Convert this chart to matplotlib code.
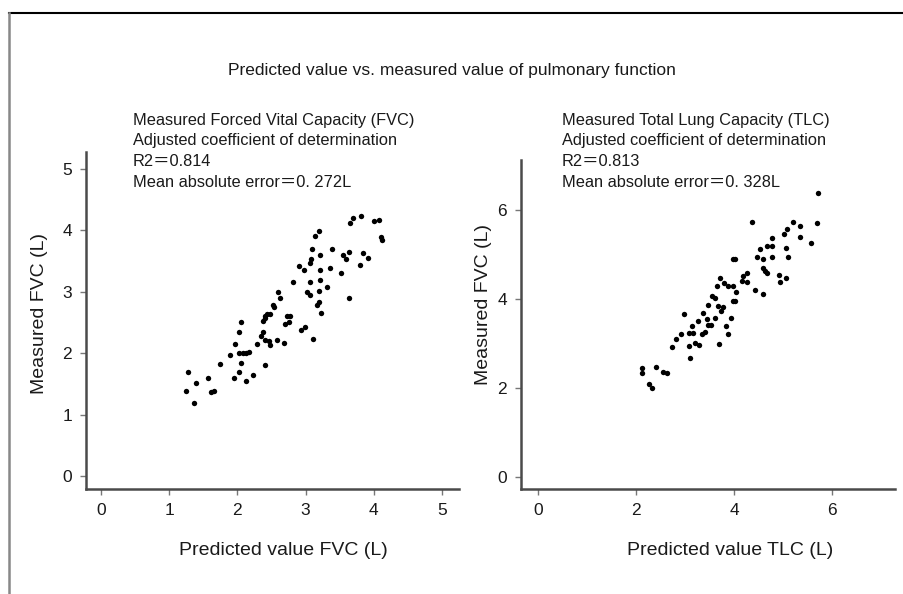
import matplotlib
matplotlib.use("Agg")
from matplotlib import pyplot as plt
from matplotlib.lines import Line2D

plt.rcParams['font.family'] = ['Liberation Sans', 'Noto Sans CJK JP', 'DejaVu Sans']

# Forced vital capacity (L): predicted vs measured
fvc_pred = [1.27, 1.39, 1.24, 1.36, 1.57, 1.62, 1.65, 1.75, 1.89, 1.95,
            2.02, 2.12, 2.23, 2.05, 2.03, 2.08, 2.13, 2.17, 1.96, 2.03,
            2.06, 2.29, 2.41, 2.34, 2.38, 2.41, 2.47, 2.48, 2.58, 2.68,
            2.38, 2.41, 2.43, 2.48, 2.41, 2.52, 2.54, 2.60, 2.63, 2.70,
            2.73, 2.77, 2.75, 2.82, 2.90, 2.98, 2.94, 2.99, 3.11, 3.02,
            3.06, 3.06, 3.21, 3.06, 3.08, 3.10, 3.14, 3.20, 3.21, 3.21,
            3.20, 3.31, 3.17, 3.20, 3.22, 3.36, 3.39, 3.52, 3.55, 3.59,
            3.64, 3.63, 3.65, 3.69, 3.81, 3.80, 3.84, 3.92, 4.01, 4.08,
            4.11, 4.12]
fvc_meas = [1.69, 1.52, 1.38, 1.19, 1.60, 1.36, 1.38, 1.82, 1.97, 1.60,
            1.70, 1.54, 1.64, 1.84, 2.00, 2.00, 2.00, 2.02, 2.15, 2.34,
            2.50, 2.15, 1.81, 2.28, 2.35, 2.21, 2.20, 2.13, 2.21, 2.16,
            2.52, 2.61, 2.64, 2.64, 2.57, 2.79, 2.75, 2.99, 2.90, 2.48,
            2.60, 2.61, 2.51, 3.16, 3.41, 3.35, 2.37, 2.43, 2.23, 3.00,
            2.94, 3.16, 3.19, 3.46, 3.53, 3.69, 3.90, 3.99, 3.59, 3.35,
            3.01, 3.07, 2.79, 2.83, 2.66, 3.38, 3.69, 3.30, 3.59, 3.53,
            3.64, 2.90, 4.11, 4.19, 4.23, 3.44, 3.62, 3.55, 4.14, 4.17,
            3.89, 3.84]

# Total lung capacity (L): predicted vs measured
tlc_pred = [5.72, 5.70, 5.57, 5.20, 5.35, 5.35, 5.09, 5.02, 5.06, 5.11,
            4.37, 4.77, 4.67, 4.77, 4.53, 4.48, 4.59, 4.78, 4.60, 4.63,
            4.68, 4.92, 5.06, 4.95, 3.99, 4.02, 4.26, 4.19, 4.16, 4.27,
            4.43, 4.59, 3.71, 3.80, 3.88, 3.99, 3.65, 4.05, 3.56, 3.61,
            3.99, 4.02, 3.48, 3.68, 3.78, 3.73, 2.97, 3.37, 3.61, 3.95,
            3.27, 3.44, 3.48, 3.53, 3.14, 3.83, 3.09, 3.17, 3.34, 3.41,
            2.92, 2.82, 3.87, 3.20, 3.29, 2.74, 3.08, 3.70, 3.10, 2.12,
            2.13, 2.41, 2.56, 2.63, 2.27, 2.33]
tlc_meas = [6.37, 5.70, 5.26, 5.73, 5.63, 5.40, 5.58, 5.46, 5.14, 4.93,
            5.73, 5.37, 5.18, 5.18, 5.12, 4.94, 4.90, 4.94, 4.69, 4.62,
            4.58, 4.54, 4.46, 4.39, 4.90, 4.90, 4.58, 4.52, 4.41, 4.39,
            4.20, 4.11, 4.46, 4.35, 4.30, 4.30, 4.28, 4.15, 4.07, 4.01,
            3.96, 3.96, 3.87, 3.84, 3.81, 3.73, 3.67, 3.68, 3.58, 3.56,
            3.51, 3.54, 3.41, 3.41, 3.39, 3.39, 3.24, 3.24, 3.22, 3.26,
            3.21, 3.09, 3.21, 3.00, 2.96, 2.93, 2.94, 2.98, 2.68, 2.45,
            2.34, 2.47, 2.35, 2.34, 2.09, 2.00]

fvc_ticks = [0, 1, 2, 3, 4, 5]
tlc_ticks = [0, 2, 4, 6]

fvc_notes = ["Measured Forced Vital Capacity (FVC)",
             "Adjusted coefficient of determination",
             "R2＝0.814",
             "Mean absolute error＝0. 272L"]
tlc_notes = ["Measured Total Lung Capacity (TLC)",
             "Adjusted coefficient of determination",
             "R2＝0.813",
             "Mean absolute error＝0. 328L"]

SPINE = '#4a4a4a'
TEXT = '#1a1a1a'
W, H = 904, 594


def plot_panel(ax, x, y, ticks, xlim, ylim, xlabel, ypad, xlab_pos, ylab_pos):
    ax.scatter(x, y, s=15, color='black', linewidths=0)
    ax.set_xlim(*xlim)
    ax.set_ylim(*ylim)
    ax.set_xticks(ticks)
    ax.set_yticks(ticks)
    for side in ['top', 'right']:
        ax.spines[side].set_visible(False)
    for side in ['left', 'bottom']:
        ax.spines[side].set_color(SPINE)
        ax.spines[side].set_linewidth(1.8)
    ax.tick_params(direction='out', length=4, width=1, color='#777777',
                   labelsize=12.5, labelcolor=TEXT, pad=6)
    ax.set_xlabel(xlabel, fontsize=14, color=TEXT)
    ax.set_ylabel("Measured FVC (L)", fontsize=14, color=TEXT, labelpad=ypad)
    ax.xaxis.set_label_coords(*xlab_pos)
    ax.yaxis.label.set_y(ylab_pos)


def add_notes(fig, x_px, notes):
    # four lines of text above each panel
    for i, line in enumerate(notes):
        fig.text(x_px / W, 1 - (120 + i * 20.7) / H, line,
                 fontsize=11.8, color=TEXT, va='center', ha='left')


fig = plt.figure(figsize=(9.04, 5.94), dpi=100)

ax1 = fig.add_axes([86 / W, 1 - 489 / H, 373 / W, 337 / H])
plot_panel(ax1, fvc_pred, fvc_meas, fvc_ticks, (-0.22, 5.25), (-0.21, 5.27),
           "Predicted value FVC (L)", 10, (0.53, -0.158), 0.52)
add_notes(fig, 133, fvc_notes)

ax2 = fig.add_axes([521 / W, 1 - 489 / H, 374 / W, 329 / H])
plot_panel(ax2, tlc_pred, tlc_meas, tlc_ticks, (-0.35, 7.29), (-0.27, 7.12),
           "Predicted value TLC (L)", 4, (0.56, -0.162), 0.56)
add_notes(fig, 562, tlc_notes)

fig.text(0.5, 1 - 71 / H, "Predicted value vs. measured value of pulmonary function",
         ha='center', va='center', fontsize=12.5, color=TEXT)

# frame around the figure (top and left only, as in the source)
fig.add_artist(Line2D([9 / W, 1.0], [1 - 13 / H, 1 - 13 / H],
                      color='black', linewidth=1.5))
fig.add_artist(Line2D([9 / W, 9 / W], [0.0, 1 - 13 / H],
                      color='#888888', linewidth=1.8))

fig.savefig("out.png", dpi=100)
